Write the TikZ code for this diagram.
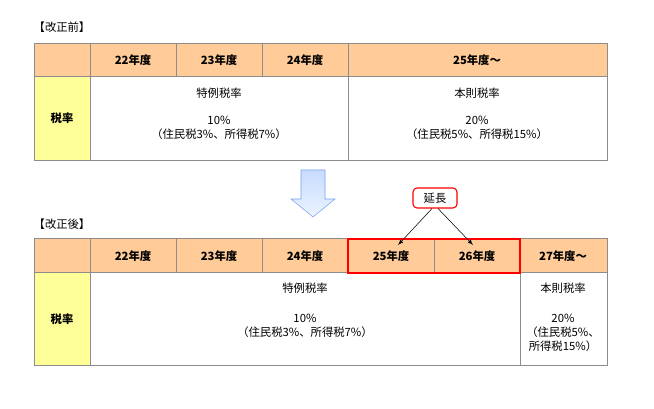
\documentclass[tikz,border=0pt]{standalone}
\usepackage{fontspec}
\setmainfont{Noto Sans CJK JP}
\begin{document}
\begin{tikzpicture}[x=0.75pt,y=-0.75pt,font=\fontsize{8.5pt}{10pt}\selectfont,
  hdr/.style={draw=gray!90,fill=orange!40!yellow!45!white,fill={rgb,255:red,255;green,204;blue,153}},
  yel/.style={draw=gray!90,fill={rgb,255:red,255;green,255;blue,153}},
  wht/.style={draw=gray!90,fill=white},
  bt/.style={font=\fontsize{8.5pt}{10pt}\selectfont\bfseries}]
\useasboundingbox (0,0) rectangle (654,409);
% top table
\foreach \a/\b in {34/90,90/176,176/262,262/348,348/607}{\draw[hdr] (\a,43) rectangle (\b,76);}
\draw[yel] (34,76) rectangle (90,160);
\draw[wht] (90,76) rectangle (348,160);
\draw[wht] (348,76) rectangle (607,160);
\node (tl) at (62,27) {【改正前】};
\node[bt] (h1) at (133,60) {22年度};
\node[bt] (h2) at (219,60) {23年度};
\node[bt] (h3) at (305,60) {24年度};
\node[bt] (h4) at (477,60) {25年度～};
\node[bt] (r1) at (62,118) {税率};
\node (a1) at (219,93) {特例税率};
\node (a2) at (219,120) {10\%};
\node (a3) at (219,134) {（住民税3\%、所得税7\%）};
\node (b1) at (477,93) {本則税率};
\node (b2) at (477,120) {20\%};
\node (b3) at (477,134) {（住民税5\%、所得税15\%）};
% down arrow
\draw[draw={rgb,255:red,120;green,160;blue,240},top color={rgb,255:red,200;green,220;blue,255},bottom color={rgb,255:red,235;green,243;blue,255}]
 (301,170) -- (325,170) -- (325,199) -- (335,199) -- (313,217) -- (291,199) -- (301,199) -- cycle;
% bottom table
\foreach \a/\b in {34/90,90/176,176/262,262/348,348/434,434/520,520/607}{\draw[hdr] (\a,238) rectangle (\b,272);}
\draw[yel] (34,272) rectangle (90,365);
\draw[wht] (90,272) rectangle (520,365);
\draw[wht] (520,272) rectangle (607,365);
\draw[red,line width=2pt] (348,239) rectangle (520,273);
\node (bl) at (62,224) {【改正後】};
\node[bt] (g1) at (133,256) {22年度};
\node[bt] (g2) at (219,256) {23年度};
\node[bt] (g3) at (305,256) {24年度};
\node[bt] (g4) at (391,256) {25年度};
\node[bt] (g5) at (477,256) {26年度};
\node[bt] (g6) at (563,256) {27年度～};
\node[bt] (s1) at (62,319) {税率};
\node (c1) at (305,288) {特例税率};
\node (c2) at (305,318) {10\%};
\node (c3) at (305,332) {（住民税3\%、所得税7\%）};
\node (d1) at (563,288) {本則税率};
\node (d2) at (563,318) {20\%};
\node (d3) at (563,332) {（住民税5\%、};
\node (d4) at (563,346) {所得税15\%）};
\node[draw=red,thick,fill=white,rounded corners=3pt,inner sep=2pt,minimum width=44*0.75pt,minimum height=20*0.75pt] (ext) at (435,198) {延長};
\coordinate (t1) at (398,245);
\coordinate (t2) at (473,245);
\draw[-latex] (ext.south) ++(-3,0) -- (t1);
\draw[-latex] (ext.south) ++(3,0) -- (t2);
\end{tikzpicture}
\end{document}
